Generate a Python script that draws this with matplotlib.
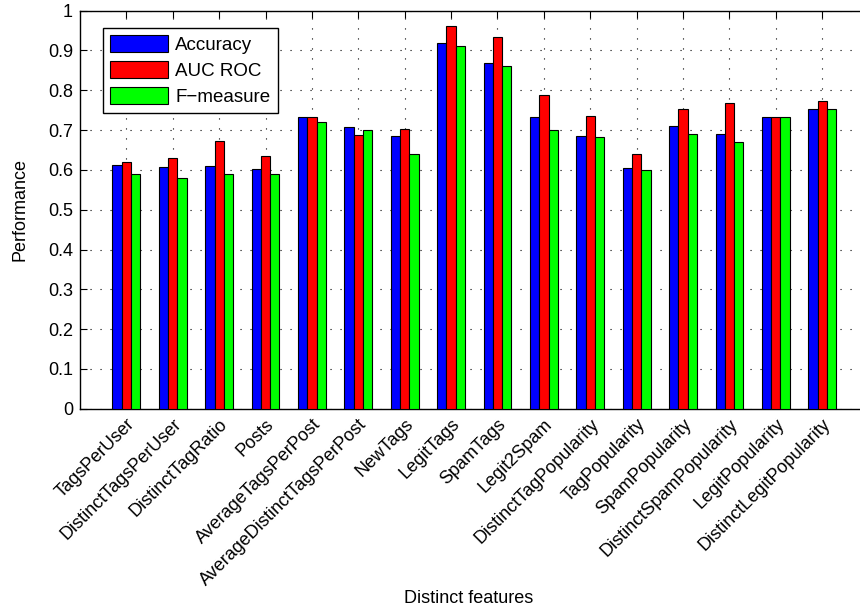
import numpy as np
import matplotlib
matplotlib.use("Agg")
import matplotlib.pyplot as plt

plt.rcParams['font.family'] = ['Liberation Sans', 'DejaVu Sans']

features = ['TagsPerUser', 'DistinctTagsPerUser', 'DistinctTagRatio', 'Posts',
            'AverageTagsPerPost', 'AverageDistinctTagsPerPost', 'NewTags',
            'LegitTags', 'SpamTags', 'Legit2Spam', 'DistinctTagPopularity',
            'TagPopularity', 'SpamPopularity', 'DistinctSpamPopularity',
            'LegitPopularity', 'DistinctLegitPopularity']
accuracy = [0.613, 0.607, 0.611, 0.602, 0.732, 0.708, 0.685, 0.919,
            0.868, 0.732, 0.685, 0.604, 0.711, 0.691, 0.733, 0.754]
auc_roc = [0.621, 0.630, 0.673, 0.634, 0.734, 0.687, 0.702, 0.961,
           0.933, 0.789, 0.736, 0.641, 0.753, 0.767, 0.732, 0.772]
f_measure = [0.591, 0.580, 0.591, 0.591, 0.721, 0.701, 0.641, 0.912,
             0.862, 0.701, 0.682, 0.601, 0.691, 0.671, 0.732, 0.752]
yticks = [0, 0.1, 0.2, 0.3, 0.4, 0.5, 0.6, 0.7, 0.8, 0.9, 1]
ytick_labels = ['0', '0.1', '0.2', '0.3', '0.4', '0.5', '0.6', '0.7', '0.8', '0.9', '1']

fig = plt.figure(figsize=(8.6, 6.11), dpi=100)
ax = fig.add_axes([0.093, 0.331, 0.917, 0.6515])

x = np.arange(1, len(features) + 1)
w = 0.2
ax.bar(x - w, accuracy, w, color='#0000ff', edgecolor='black', linewidth=0.8, label='Accuracy', zorder=3)
ax.bar(x, auc_roc, w, color='#ff0000', edgecolor='black', linewidth=0.8, label='AUC ROC', zorder=3)
ax.bar(x + w, f_measure, w, color='#00ff00', edgecolor='black', linewidth=0.8, label='F\u2212measure', zorder=3)

fs = 13.0
ax.set_xlim(0, 17)
ax.set_ylim(0, 1)
ax.set_xticks(x)
ax.set_xticklabels(features, rotation=45, ha='right', rotation_mode='anchor', fontsize=fs)
ax.set_yticks(yticks)
ax.set_yticklabels(ytick_labels, fontsize=fs)
ax.tick_params(direction='in', top=True, right=True, length=5, width=0.8, pad=5)
ax.grid(True, linestyle=(0, (1, 8)), color='black', linewidth=0.8, zorder=0)
for s in ax.spines.values():
    s.set_linewidth(1.0)

ax.set_xlabel('Distinct features', fontsize=fs, va='center')
ax.xaxis.set_label_coords(0.493, -0.4756)
ax.set_ylabel('Performance', fontsize=fs, va='center')
ax.yaxis.set_label_coords(-0.076, 0.5)

leg = ax.legend(loc='upper left', bbox_to_anchor=(0.029, 0.957), borderaxespad=0,
                fontsize=13.5, fancybox=False, edgecolor='black', framealpha=1,
                handlelength=3.1, handleheight=1.0, labelspacing=0.38,
                borderpad=0.4, handletextpad=0.35)
leg.get_frame().set_linewidth(1.0)

fig.savefig('out.png', dpi=100)
